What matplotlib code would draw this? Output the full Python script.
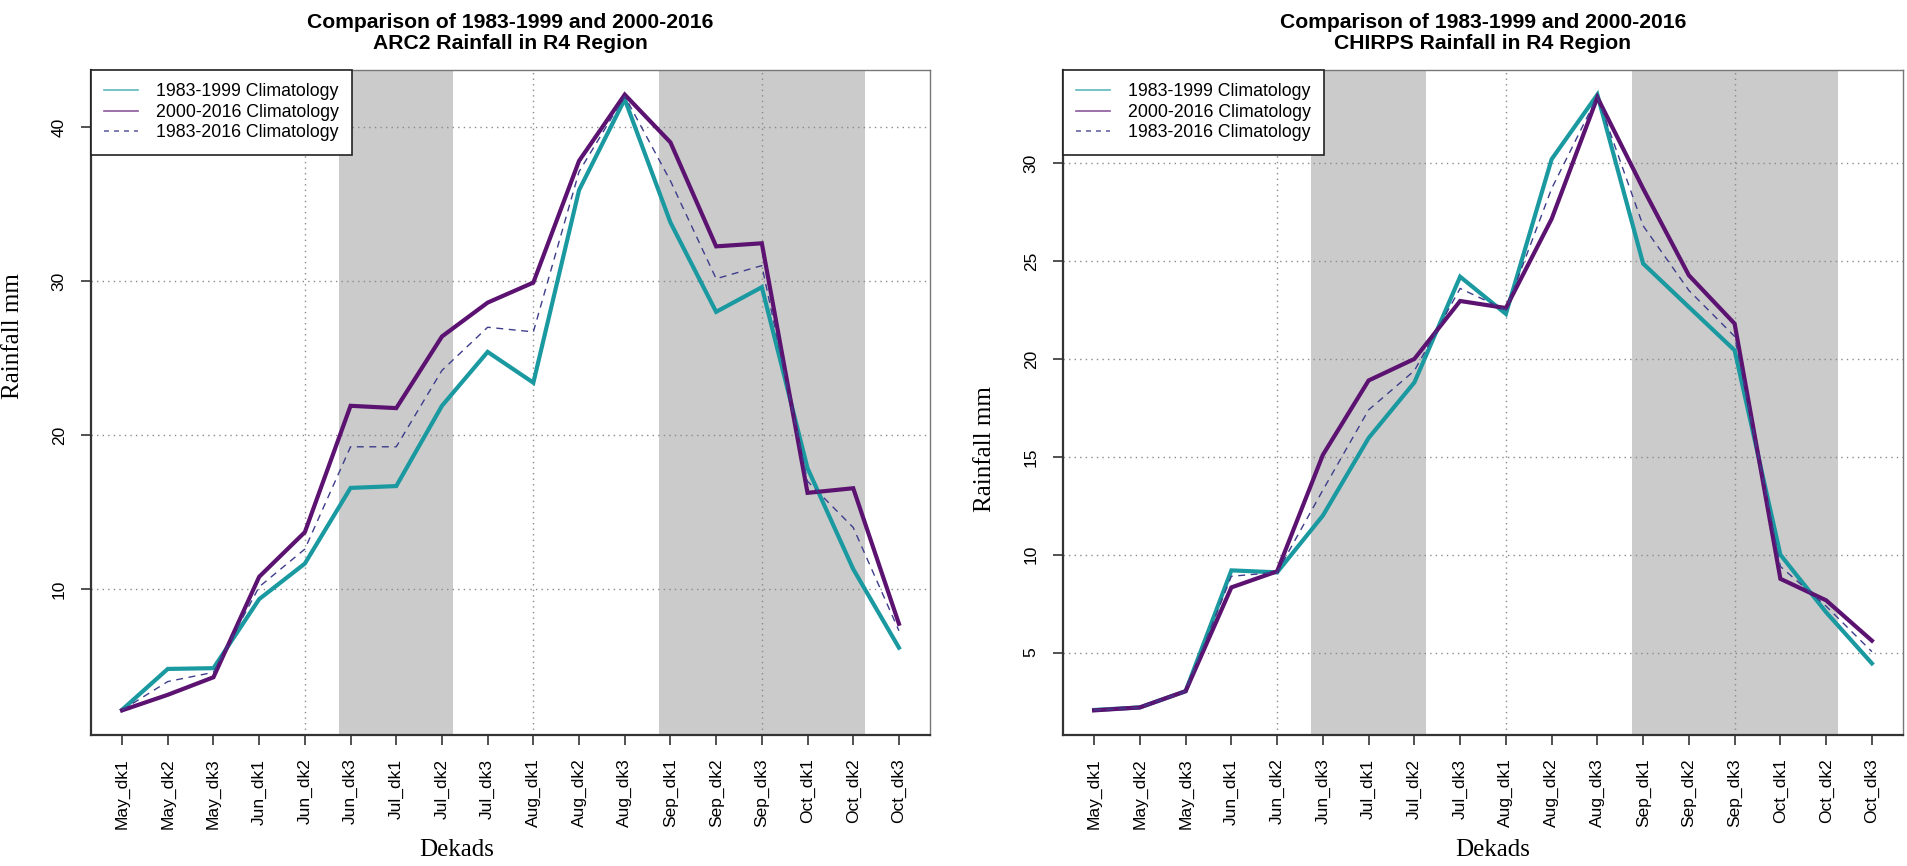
import numpy as np
import matplotlib
matplotlib.use("Agg")
import matplotlib.pyplot as plt
from matplotlib.lines import Line2D

dekads = ["May_dk1", "May_dk2", "May_dk3", "Jun_dk1", "Jun_dk2", "Jun_dk3",
          "Jul_dk1", "Jul_dk2", "Jul_dk3", "Aug_dk1", "Aug_dk2", "Aug_dk3",
          "Sep_dk1", "Sep_dk2", "Sep_dk3", "Oct_dk1", "Oct_dk2", "Oct_dk3"]

# ARC2
arc2_8399 = [2.17, 4.82, 4.87, 9.35, 11.66, 16.57, 16.69, 21.9, 25.4, 23.4,
             35.9, 41.8, 33.8, 28.0, 29.6, 17.85, 11.3, 6.2]
arc2_0016 = [2.13, 3.14, 4.28, 10.8, 13.7, 21.9, 21.75, 26.4, 28.6, 29.9,
             37.8, 42.1, 39.0, 32.25, 32.45, 16.25, 16.55, 7.75]
arc2_8316 = [2.15, 4.0, 4.6, 10.15, 12.6, 19.24, 19.24, 24.2, 27.0, 26.7,
             37.1, 42.0, 36.5, 30.15, 31.0, 17.0, 14.0, 7.3]

# CHIRPS
chirps_8399 = [2.07, 2.2, 3.03, 9.2, 9.1, 12.0, 15.96, 18.8, 24.2, 22.3,
               30.2, 33.5, 24.87, 22.65, 20.44, 10.0, 7.06, 4.45]
chirps_0016 = [2.05, 2.2, 3.03, 8.33, 9.15, 15.1, 18.9, 20.0, 22.96, 22.6,
               27.15, 33.36, 28.7, 24.27, 21.8, 8.77, 7.67, 5.61]
chirps_8316 = [2.06, 2.2, 3.03, 8.9, 9.1, 13.3, 17.4, 19.4, 23.6, 22.5,
               28.7, 33.4, 26.8, 23.5, 21.15, 9.4, 7.37, 5.05]

shade_bands = [(4.75, 7.25), (11.75, 16.25)]
vgrid = [4, 9, 14]
labels = ["1983-1999 Climatology", "2000-2016 Climatology", "1983-2016 Climatology"]
titles = ["Comparison of 1983-1999 and 2000-2016\nARC2 Rainfall in R4 Region",
          "Comparison of 1983-1999 and 2000-2016\nCHIRPS Rainfall in R4 Region"]
yticks_list = [[10, 20, 30, 40], [5, 10, 15, 20, 25, 30]]

TEAL = "#1a9aa0"
PURPLE = "#5c1270"
DASH = "#3e3d8c"

plt.rcParams["font.family"] = ["Liberation Sans", "DejaVu Sans"]

fig = plt.figure(figsize=(19.07, 8.66), dpi=100)
W, H = 1907, 866
boxes = [(91, 930), (1063, 1903)]
top, bottom = 70, 735

datasets = [(arc2_8399, arc2_0016, arc2_8316), (chirps_8399, chirps_0016, chirps_8316)]
ylab_y = [0.6, 0.43]
xlab_x = [0.436, 0.511]

for i, ((x0, x1), (s1, s2, s3)) in enumerate(zip(boxes, datasets)):
    ax = fig.add_axes([x0 / W, 1 - bottom / H, (x1 - x0) / W, (bottom - top) / H])
    x = np.arange(len(dekads))
    allv = np.concatenate([s1, s2, s3])
    lo, hi = allv.min(), allv.max()
    pad = 0.04 * (hi - lo)
    ax.set_ylim(lo - pad, hi + pad)
    ax.set_xlim(-0.04 * 17, 17 * 1.04)

    for a, b in shade_bands:
        ax.axvspan(a, b, color="#cbcbcb", lw=0, zorder=0)
    for g in vgrid:
        ax.axvline(g, color="#8a8a8a", lw=1.0, ls=(0, (1, 3)), zorder=1)
    for t in yticks_list[i]:
        ax.axhline(t, color="#8a8a8a", lw=1.0, ls=(0, (1, 3)), zorder=1)

    ax.plot(x, s1, color=TEAL, lw=3.0, zorder=3, solid_joinstyle="miter")
    ax.plot(x, s2, color=PURPLE, lw=3.0, zorder=4, solid_joinstyle="miter")
    ax.plot(x, s3, color=DASH, lw=1.0, ls=(0, (5, 4)), zorder=5)

    ax.set_xticks(x)
    ax.set_xticklabels(dekads, rotation=90, fontsize=12.5)
    ax.set_yticks(yticks_list[i])
    ax.set_yticklabels([str(t) for t in yticks_list[i]], rotation=90, va="center", fontsize=12.5)
    ax.tick_params(axis="both", direction="out", length=7.5, width=1.2, color="#333333")
    ax.tick_params(axis="x", pad=9.5)
    ax.tick_params(axis="y", pad=10)

    for side in ["left", "bottom"]:
        ax.spines[side].set_linewidth(1.6)
        ax.spines[side].set_color("#333333")
    for side in ["top", "right"]:
        ax.spines[side].set_linewidth(1.0)
        ax.spines[side].set_color("#777777")

    ax.set_title(titles[i], fontsize=15.2, fontweight="bold", pad=15, linespacing=1.12)
    ax.set_xlabel("Dekads", family=["Liberation Serif"], fontsize=18, labelpad=12)
    ax.set_ylabel("Rainfall mm", family=["Liberation Serif"], fontsize=18)
    ax.yaxis.set_label_coords(-67.0 / (x1 - x0), ylab_y[i])
    ax.xaxis.set_label_coords(xlab_x[i], -(850 - bottom) / (bottom - top))
    ax.xaxis.label.set_va("center")

    handles = [Line2D([], [], color=TEAL, lw=1.2, alpha=0.7),
               Line2D([], [], color=PURPLE, lw=1.2, alpha=0.7),
               Line2D([], [], color=DASH, lw=1.2, ls=(0, (3, 3)), alpha=0.8)]
    leg = ax.legend(handles, labels, loc="upper left", bbox_to_anchor=(0, 1),
                    borderaxespad=0, fontsize=12.8, fancybox=False, framealpha=1,
                    edgecolor="#222222", handlelength=1.9, handletextpad=1.0,
                    labelspacing=0.2, borderpad=0.75)
    leg.get_frame().set_linewidth(1.2)
    leg.set_zorder(10)

fig.savefig("out.png", dpi=100)
